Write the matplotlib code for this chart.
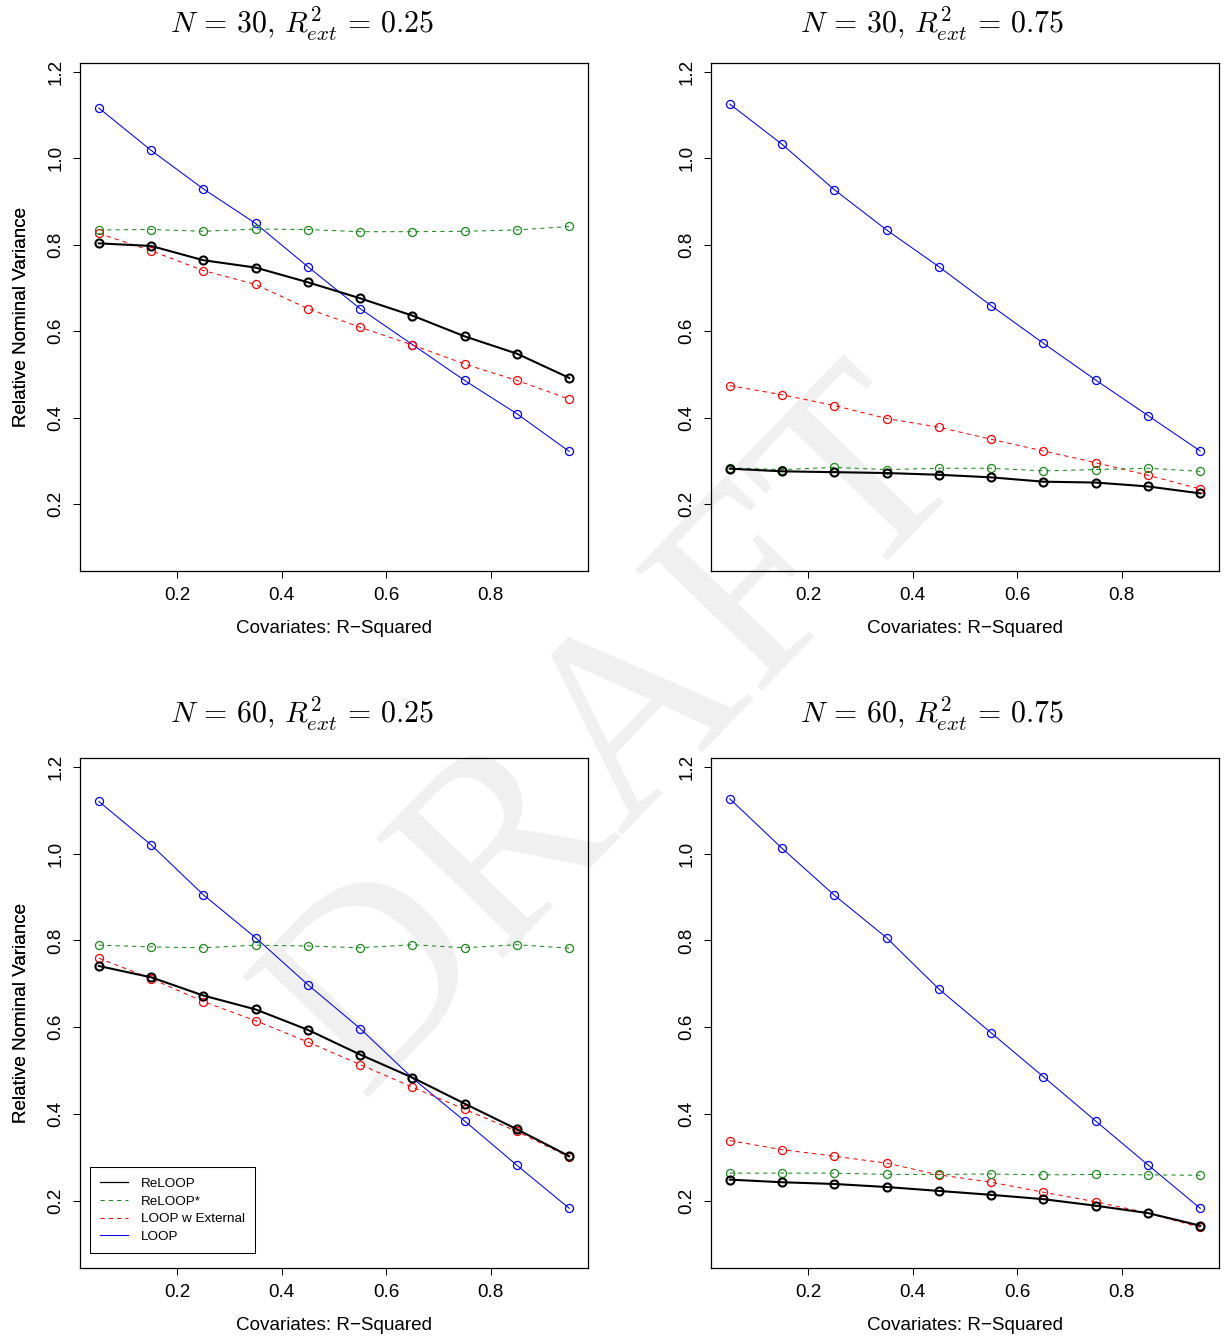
import matplotlib
matplotlib.use("Agg")
import matplotlib.pyplot as plt
from matplotlib.lines import Line2D

plt.rcParams['font.family'] = ['Liberation Sans', 'DejaVu Sans']
plt.rcParams['mathtext.fontset'] = 'cm'

# ---------------- data ----------------
r2 = [0.05, 0.15, 0.25, 0.35, 0.45, 0.55, 0.65, 0.75, 0.85, 0.95]

titles = [r"$N\,=\,30,\,R^2_{ext}\,=\,0.25$",
          r"$N\,=\,30,\,R^2_{ext}\,=\,0.75$",
          r"$N\,=\,60,\,R^2_{ext}\,=\,0.25$",
          r"$N\,=\,60,\,R^2_{ext}\,=\,0.75$"]

# N=30, R2ext=0.25
p1_loop = [1.116, 1.018, 0.929, 0.849, 0.749, 0.652, 0.569, 0.486, 0.409, 0.322]
p1_relooppstar = [0.834, 0.835, 0.831, 0.836, 0.835, 0.830, 0.830, 0.831, 0.834, 0.842]
p1_loopext = [0.826, 0.786, 0.740, 0.708, 0.652, 0.609, 0.568, 0.524, 0.486, 0.443]
p1_reloop = [0.803, 0.797, 0.764, 0.747, 0.713, 0.676, 0.636, 0.588, 0.548, 0.492]

# N=30, R2ext=0.75
p2_loop = [1.125, 1.032, 0.927, 0.834, 0.749, 0.659, 0.572, 0.487, 0.405, 0.323]
p2_relooppstar = [0.284, 0.280, 0.285, 0.280, 0.283, 0.283, 0.277, 0.280, 0.283, 0.276]
p2_loopext = [0.474, 0.453, 0.428, 0.398, 0.378, 0.350, 0.323, 0.296, 0.267, 0.235]
p2_reloop = [0.282, 0.276, 0.274, 0.272, 0.268, 0.262, 0.252, 0.250, 0.241, 0.225]

# N=60, R2ext=0.25
p3_loop = [1.120, 1.020, 0.905, 0.806, 0.698, 0.597, 0.483, 0.384, 0.282, 0.183]
p3_relooppstar = [0.789, 0.785, 0.783, 0.789, 0.787, 0.783, 0.790, 0.783, 0.790, 0.782]
p3_loopext = [0.759, 0.712, 0.659, 0.615, 0.566, 0.514, 0.462, 0.411, 0.360, 0.301]
p3_reloop = [0.741, 0.715, 0.673, 0.641, 0.594, 0.537, 0.484, 0.424, 0.365, 0.303]

# N=60, R2ext=0.75
p4_loop = [1.126, 1.012, 0.904, 0.806, 0.688, 0.587, 0.486, 0.384, 0.283, 0.183]
p4_relooppstar = [0.264, 0.264, 0.264, 0.261, 0.261, 0.262, 0.260, 0.261, 0.260, 0.259]
p4_loopext = [0.339, 0.318, 0.303, 0.287, 0.260, 0.243, 0.220, 0.198, 0.172, 0.139]
p4_reloop = [0.249, 0.243, 0.239, 0.232, 0.223, 0.214, 0.204, 0.189, 0.172, 0.143]

panels = [
    (p1_reloop, p1_relooppstar, p1_loopext, p1_loop),
    (p2_reloop, p2_relooppstar, p2_loopext, p2_loop),
    (p3_reloop, p3_relooppstar, p3_loopext, p3_loop),
    (p4_reloop, p4_relooppstar, p4_loopext, p4_loop),
]

series_names = ["ReLOOP", "ReLOOP*", "LOOP w External", "LOOP"]
xticks = [0.2, 0.4, 0.6, 0.8]
yticks = [0.2, 0.4, 0.6, 0.8, 1.0, 1.2]

# ---------------- styling ----------------
W, H = 1224, 1338
fig = plt.figure(figsize=(W / 100, H / 100), dpi=100)

green = '#1b8a1b'
dash = (0, (4, 4))
styles = [
    dict(color='black', lw=1.5, ls='-', mew=1.5),
    dict(color=green, lw=0.75, ls=dash, mew=0.9),
    dict(color='#ff0000', lw=0.75, ls=dash, mew=0.9),
    dict(color='#0000ff', lw=0.75, ls='-', mew=0.9),
]
draw_order = [3, 2, 1, 0]

# axes boxes in pixels (left, top, right, bottom)
boxes = [(80, 63, 588, 571), (711, 63, 1219, 571),
         (80, 758, 588, 1268), (711, 758, 1219, 1268)]
title_pos = [(302, 33), (932, 33), (302, 723), (932, 723)]

fs = 13.6

# DRAFT watermark behind axes
fig.text(620 / W, 1 - 738 / H, "DRAFT", fontsize=193, family='Liberation Serif',
         color='#f0f0f0', rotation=46, ha='center', va='center', zorder=-5)

for i, (box, data) in enumerate(zip(boxes, panels)):
    l, t, r, b = box
    ax = fig.add_axes([l / W, 1 - b / H, (r - l) / W, (b - t) / H])
    ax.set_facecolor('none')
    for k in draw_order:
        st = styles[k]
        ax.plot(r2, data[k], color=st['color'], lw=st['lw'], ls=st['ls'],
                marker='o', markersize=5.8, markerfacecolor='none',
                markeredgecolor=st['color'], markeredgewidth=st['mew'],
                label=series_names[k])
    ax.set_xlim(0.014, 0.986)
    ax.set_ylim(0.0455, 1.2200)
    ax.set_xticks(xticks)
    ax.set_xticklabels([f"{v:.1f}" for v in xticks], fontsize=fs)
    ax.set_yticks(yticks)
    ax.set_yticklabels([f"{v:.1f}" for v in yticks], fontsize=fs,
                       rotation=90, va='center', ha='right')
    ax.tick_params(axis='both', direction='out', length=5, width=0.75,
                   color='black')
    ax.tick_params(axis='x', pad=6.5)
    ax.tick_params(axis='y', pad=6.0)
    for sp in ax.spines.values():
        sp.set_linewidth(0.9)
        sp.set_color('black')
    ax.set_xlabel("Covariates: R\u2212Squared", fontsize=fs, va='top')
    ax.xaxis.set_label_coords(0.5, -49.0 / (b - t))
    ax.set_ylabel("Relative Nominal Variance", fontsize=fs)
    ax.yaxis.set_label_coords(-(l - 30.5) / (r - l), 0.5)

    tx, ty = title_pos[i]
    fig.text(tx / W, 1 - ty / H, titles[i], fontsize=21.5, ha='center',
             va='baseline')

    if i == 2:
        hs = []
        for k in range(4):
            st = styles[k]
            hs.append(Line2D([], [], color=st['color'],
                             lw=st['lw'] if k else 0.9, ls=st['ls']))
        leg = ax.legend(hs, series_names, loc='lower left',
                        bbox_to_anchor=(10 / (r - l), 14.7 / (b - t)),
                        borderaxespad=0, fontsize=9.7, frameon=True,
                        fancybox=False, edgecolor='black', framealpha=1,
                        handlelength=2.1, handletextpad=0.95,
                        labelspacing=0.4, borderpad=0.75)
        leg.get_frame().set_linewidth(0.75)
        leg.get_frame().set_facecolor('none')

fig.savefig("out.png", dpi=100)
